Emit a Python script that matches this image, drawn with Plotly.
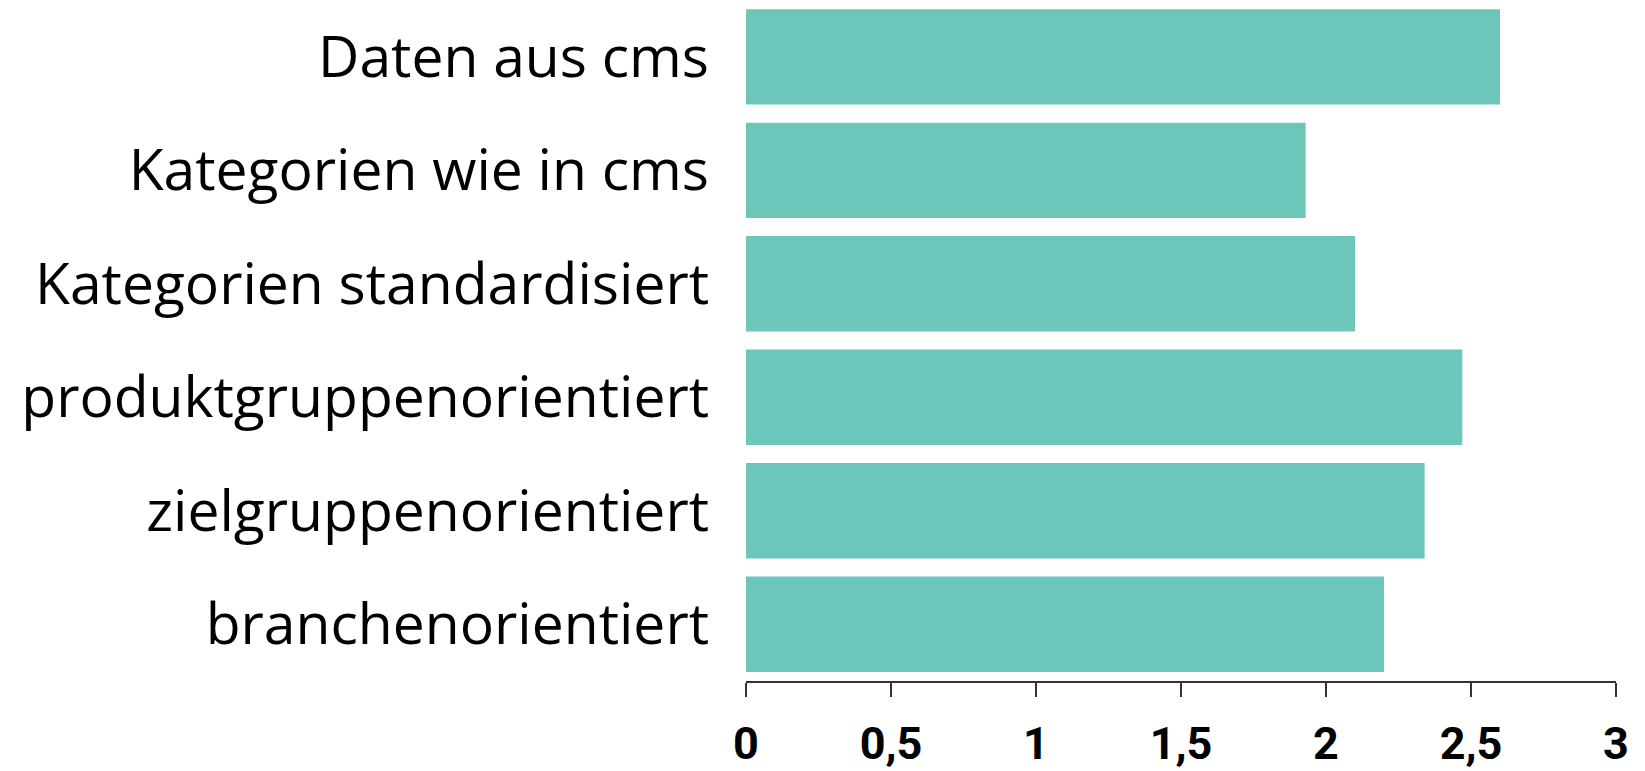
import plotly.graph_objects as go

categories = [
    "Daten aus cms",
    "Kategorien wie in cms",
    "Kategorien standardisiert",
    "produktgruppenorientiert",
    "zielgruppenorientiert",
    "branchenorientiert",
]
values = [2.6, 1.93, 2.1, 2.47, 2.34, 2.2]

fig = go.Figure(
    go.Bar(
        y=categories,
        x=values,
        orientation="h",
        marker=dict(color="#6cc7ba", line=dict(width=0)),
        hoverinfo="skip",
    )
)

fig.update_layout(
    width=1637,
    height=763,
    margin=dict(l=738, r=29, t=0, b=90, autoexpand=False),
    paper_bgcolor="white",
    plot_bgcolor="white",
    separators=",.",
    bargap=0.16,
    showlegend=False,
)

fig.update_xaxes(
    range=[0, 3],
    dtick=0.5,
    tick0=0,
    showgrid=False,
    zeroline=False,
    showline=True,
    linecolor="#333333",
    linewidth=2,
    ticks="outside",
    ticklen=14,
    tickwidth=2,
    tickcolor="#333333",
    tickfont=dict(family="Roboto, sans-serif", size=45, color="black", weight="bold"),
    ticklabelstandoff=8,
)

fig.update_yaxes(
    categoryorder="array",
    categoryarray=categories,
    range=[5.5, -0.43],
    showgrid=False,
    zeroline=False,
    showline=False,
    ticks="",
    tickfont=dict(family="Open Sans, sans-serif", size=57, color="black"),
    ticklabelstandoff=36,
)

fig.write_html("out.html")
